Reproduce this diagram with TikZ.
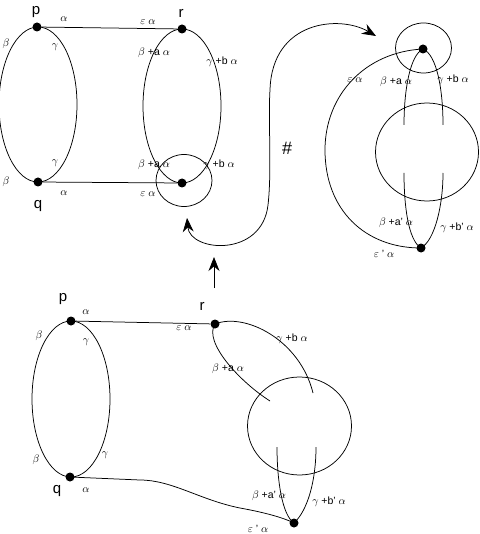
\documentclass[tikz,border=0pt]{standalone}
\usepackage{fontspec}
\setmainfont{Liberation Sans}
\usetikzlibrary{arrows.meta}
\begin{document}
\begin{tikzpicture}[x=1pt,y=-1pt, line width=0.75pt,
 dot/.style={circle,fill=black,inner sep=0pt,minimum size=9pt},
 lbl/.style={font=\fontsize{10.5}{12}\selectfont,inner sep=0pt},
 big/.style={font=\fontsize{15}{16}\selectfont,inner sep=0pt},
 arr/.style={-{Stealth[length=14pt,width=11pt]}},
 arrb/.style={{Stealth[length=14pt,width=11pt]}-{Stealth[length=14pt,width=11pt]}}]
\useasboundingbox (0,0) rectangle (479,534);

% ---------- top left ----------
\node[dot] (p1) at (37,27) {};
\node[dot] (q1) at (38,182) {};
\node[dot] (r1) at (182,29) {};
\node[dot] (s1) at (182,183) {};
\draw (38,104.5) ellipse [x radius=39, y radius=77.5];
\draw (182,106) ellipse [x radius=39, y radius=77];
\draw (184,180.5) ellipse [x radius=28, y radius=26];
\draw (p1) -- (r1);
\draw (q1) -- (s1);
\node[big] (lp1) at (36,12) {p};
\node[big] (lq1) at (38,206) {q};
\node[big] (lr1) at (181,13) {r};
\node[lbl] at (64,19) {\(\alpha\)};
\node[lbl] at (64,193) {\(\alpha\)};
\node[lbl] at (6,44) {\(\beta\)};
\node[lbl] at (6,182) {\(\beta\)};
\node[lbl] at (55,47) {\(\gamma\)};
\node[lbl] at (55,163) {\(\gamma\)};
\node[lbl] at (148,22) {\(\varepsilon\ \alpha\)};
\node[lbl] at (148,194) {\(\varepsilon\ \alpha\)};
\node[lbl] at (154,53) {\(\beta\) +a \(\alpha\)};
\node[lbl] at (222,62) {\(\gamma\) +b \(\alpha\)};
\node[lbl] at (154,165) {\(\beta\) +a \(\alpha\)};
\node[lbl] at (219,165) {\(\gamma\) +b \(\alpha\)};

% ---------- arrows ----------
\coordinate (a0) at (187,218);
\coordinate (a1) at (376,36);
\draw[arrb] (a0) .. controls (190,252) and (262,258) .. (268,205)
  .. controls (272,170) and (268,120) .. (270,90)
  .. controls (272,20) and (340,15) .. (a1);
\node[font=\fontsize{18}{20}\selectfont,inner sep=0pt] at (287,148) {\#};
\coordinate (b0) at (214,288);
\coordinate (b1) at (214,257);
\draw[arr] (b0) -- (b1);

% ---------- top right ----------
\node[dot] (t) at (423,49) {};
\node[dot] (u) at (421,248) {};
\draw (427,152) ellipse [x radius=51.5, y radius=49];
\draw (423.5,48) ellipse [x radius=28, y radius=25];
\coordinate (t1) at (404,125);
\coordinate (t2) at (443,125);
\coordinate (u1) at (404,173);
\coordinate (u2) at (443,173);
\draw (t.center) .. controls (410,55) and (404,90) .. (t1);
\draw (t.center) .. controls (437,55) and (443,90) .. (t2);
\draw (u.center) .. controls (408,240) and (404,205) .. (u1);
\draw (u.center) .. controls (435,240) and (443,205) .. (u2);
\draw (t.center) .. controls (365,52) and (325,95) .. (325,150)
  .. controls (325,210) and (365,248) .. (u.center);
\node[lbl] at (355,80) {\(\varepsilon\ \alpha\)};
\node[lbl] at (396,82) {\(\beta\) +a \(\alpha\)};
\node[lbl] at (453,80) {\(\gamma\) +b \(\alpha\)};
\node[lbl] at (396,223) {\(\beta\) +a' \(\alpha\)};
\node[lbl] at (457,228) {\(\gamma\) +b' \(\alpha\)};
\node[lbl] at (384,254) {\(\varepsilon\) ' \(\alpha\)};

% ---------- bottom ----------
\node[dot] (p2) at (71,321) {};
\node[dot] (q2) at (70,477) {};
\node[dot] (r2) at (215,324) {};
\node[dot] (w) at (294,523) {};
\draw (71,399) ellipse [x radius=39, y radius=78];
\draw (299.5,426) ellipse [x radius=52, y radius=49];
\draw (p2) -- (r2);
\draw (q2.center) -- (140,480) .. controls (172,480) and (200,500) .. (240,508)
  .. controls (262,512) and (282,517) .. (w.center);
\coordinate (v1) at (270,401);
\coordinate (v2) at (313,393);
\coordinate (w1) at (277,447);
\coordinate (w2) at (316,447);
\draw (r2.center) .. controls (203,342) and (240,382) .. (v1);
\draw (r2.center) .. controls (245,312) and (300,340) .. (v2);
\draw (w.center) .. controls (282,515) and (277,480) .. (w1);
\draw (w.center) .. controls (308,510) and (316,480) .. (w2);
\node[big] (lp2) at (63,299) {p};
\node[big] (lq2) at (57,491) {q};
\node[big] (lr2) at (202,306) {r};
\node[lbl] at (86,312) {\(\alpha\)};
\node[lbl] at (86,342) {\(\gamma\)};
\node[lbl] at (39,336) {\(\beta\)};
\node[lbl] at (36,460) {\(\beta\)};
\node[lbl] at (105,455) {\(\gamma\)};
\node[lbl] at (86,490) {\(\alpha\)};
\node[lbl] at (184,328) {\(\varepsilon\ \alpha\)};
\node[lbl] at (292,339) {\(\gamma\) +b \(\alpha\)};
\node[lbl] at (228,369) {\(\beta\) +a \(\alpha\)};
\node[lbl] at (269,496) {\(\beta\) +a' \(\alpha\)};
\node[lbl] at (329,502) {\(\gamma\) +b' \(\alpha\)};
\node[lbl] at (258,529) {\(\varepsilon\) ' \(\alpha\)};
\end{tikzpicture}
\end{document}
